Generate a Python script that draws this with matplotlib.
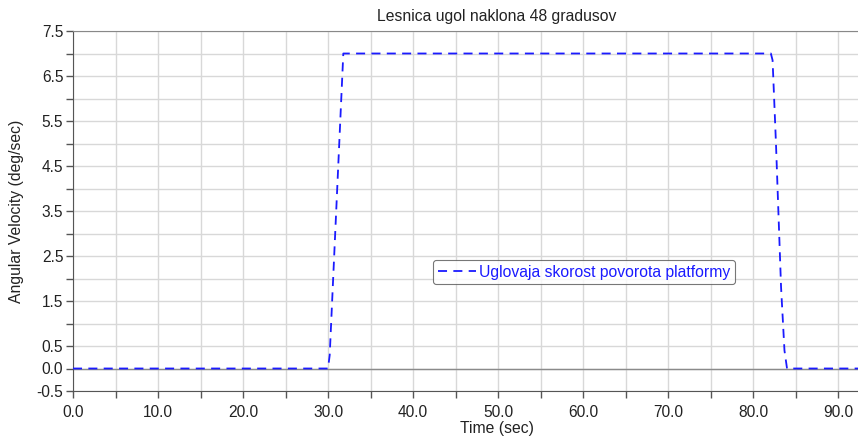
import matplotlib
matplotlib.use("Agg")
import matplotlib.pyplot as plt
from matplotlib.ticker import FixedLocator, FormatStrFormatter

plt.rcParams['font.family'] = ['Liberation Sans', 'DejaVu Sans']

# angular velocity of the platform
time_s = [0.0, 30.0, 30.2, 31.8, 82.1, 82.3, 82.7, 83.3, 83.7, 84.0, 92.4]
omega = [0.0, 0.0, 0.3, 7.0, 7.0, 6.85, 5.0, 1.8, 0.4, 0.0, 0.0]

y_major = [-0.5, 0.0, 0.5, 1.5, 2.5, 3.5, 4.5, 5.5, 6.5, 7.5]
y_minor = [1.0, 2.0, 3.0, 4.0, 5.0, 6.0, 7.0]
x_major = [0, 10, 20, 30, 40, 50, 60, 70, 80, 90]
x_minor = [5, 15, 25, 35, 45, 55, 65, 75, 85]

fig = plt.figure(figsize=(8.58, 4.37), dpi=100)
ax = fig.add_axes([73 / 858, 1 - 391 / 437, 1 - 73 / 858, (391 - 31) / 437])

ax.set_xlim(0, 92.35)
ax.set_ylim(-0.5, 7.5)

ax.yaxis.set_major_locator(FixedLocator(y_major))
ax.yaxis.set_minor_locator(FixedLocator(y_minor))
ax.xaxis.set_major_locator(FixedLocator(x_major))
ax.xaxis.set_minor_locator(FixedLocator(x_minor))
ax.xaxis.set_major_formatter(FormatStrFormatter('%.1f'))
ax.yaxis.set_major_formatter(FormatStrFormatter('%.1f'))

ax.grid(True, which='both', color='#d8d8d8', linewidth=1.0)
ax.set_axisbelow(True)
ax.axhline(0.0, color='#8a8a8a', linewidth=1.0, zorder=1.5)

ax.tick_params(which='both', direction='out', length=5, width=1, color='#555555',
               labelsize=11.2, labelcolor='#222222')
ax.tick_params(axis='x', pad=5)
ax.tick_params(axis='y', pad=2)

ax.spines['right'].set_visible(False)
ax.spines['left'].set_color('#555555')
ax.spines['bottom'].set_color('#555555')
ax.spines['top'].set_color('#888888')

line, = ax.plot(time_s, omega, color='#1a1aff', linestyle=(0, (5, 3.5)), linewidth=1.3,
                label='Uglovaja skorost povorota platformy', zorder=3)

leg = ax.legend(loc='center', bbox_to_anchor=((584 - 73) / 785, (391 - 272) / 360),
                fontsize=11.3, frameon=True, fancybox=True, edgecolor='#555555',
                handlelength=2.4, handletextpad=0.2, borderpad=0.3)
leg.get_frame().set_linewidth(0.8)
for txt in leg.get_texts():
    txt.set_color('#1a1aff')

fig.text(497 / 858, 1 - 16 / 437, 'Lesnica ugol naklona 48 gradusov',
         ha='center', va='center', fontsize=11.3, color='#222222')
fig.text(497 / 858, 1 - 428 / 437, 'Time (sec)',
         ha='center', va='center', fontsize=11.3, color='#222222')
fig.text(17 / 858, 1 - 211 / 437, 'Angular Velocity (deg/sec)', rotation=90,
         ha='center', va='center', fontsize=11.3, color='#222222')

fig.savefig('out.png', dpi=100)
